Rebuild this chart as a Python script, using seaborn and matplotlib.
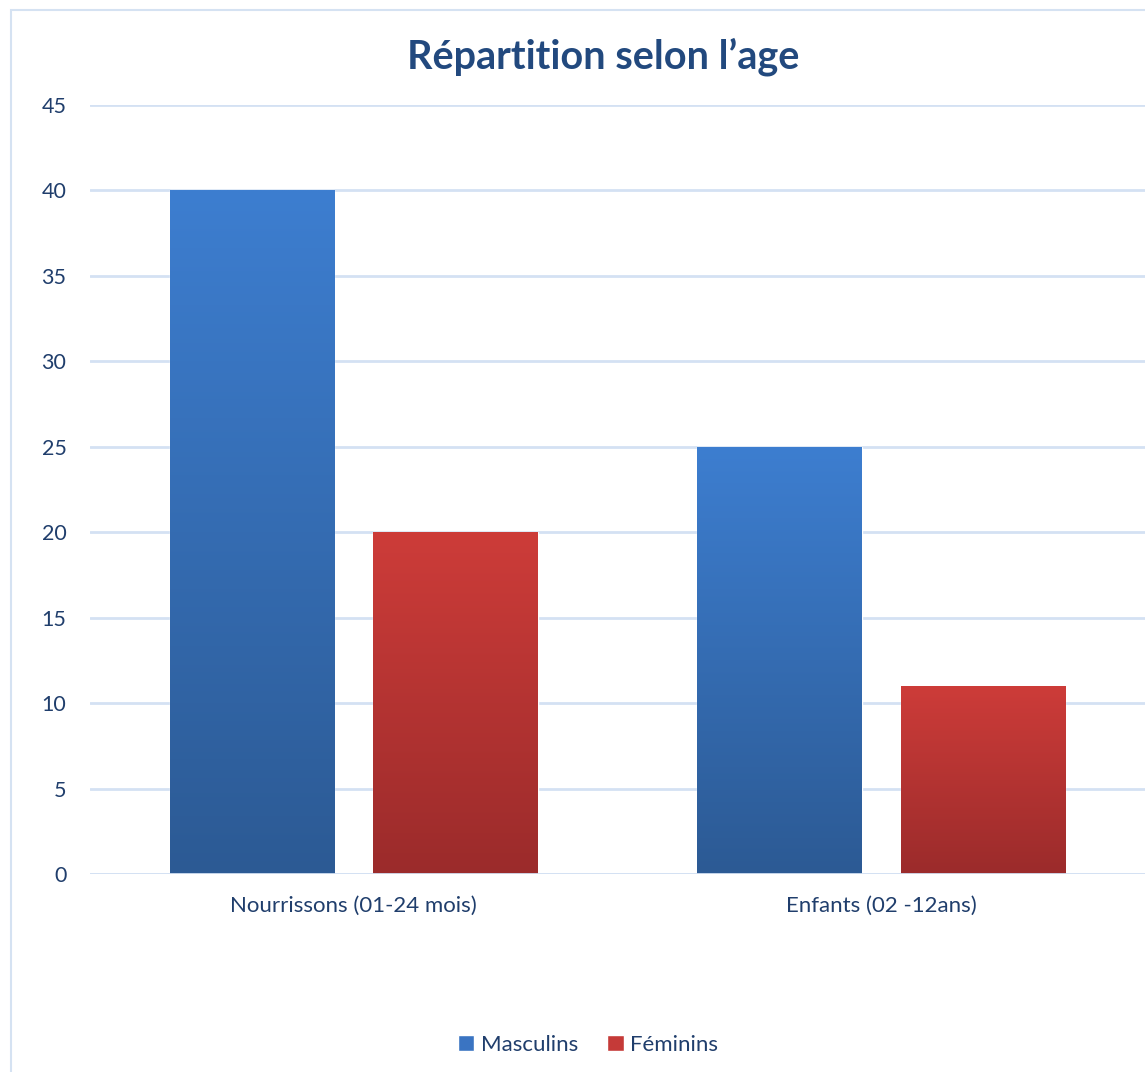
import numpy as np
import pandas as pd
import matplotlib
matplotlib.use("Agg")
import matplotlib.pyplot as plt
import seaborn as sns
from matplotlib.colors import LinearSegmentedColormap
from matplotlib.patches import Rectangle

# data
categories = ["Nourrissons (01-24 mois)", "Enfants (02 -12ans)"]
series = ["Masculins", "Féminins"]
masculins = [40, 25]
feminins = [20, 11]
y_ticks = [0, 5, 10, 15, 20, 25, 30, 35, 40, 45]

df = pd.DataFrame({
    "groupe": categories * 2,
    "sexe": [series[0]] * 2 + [series[1]] * 2,
    "valeur": masculins + feminins,
})

sns.set_theme(style="white")
plt.rcParams["font.family"] = ["Lato", "DejaVu Sans"]

txt = "#203E6C"
grid = "#D4E1F3"
base = {"Masculins": "#3A74C2", "Féminins": "#C53A38"}
grads = {
    "Masculins": LinearSegmentedColormap.from_list("b", ["#2C5A94", "#3D7ED0"]),
    "Féminins": LinearSegmentedColormap.from_list("r", ["#9B2B2B", "#CD3C39"]),
}

fig = plt.figure(figsize=(11.45, 10.72), dpi=100)
fig.patches.append(Rectangle((11 / 1145, -0.05), 1.2, 1 - 10 / 1072 + 0.05,
                             transform=fig.transFigure, fill=False,
                             edgecolor="#D5E2F2", linewidth=1.5))

ax = fig.add_axes([90 / 1145, 1 - 874 / 1072, 1 - 90 / 1145, (874 - 105) / 1072])
sns.barplot(data=df, x="groupe", y="valeur", hue="sexe", order=categories,
            hue_order=series, palette=base, width=0.77, gap=0.19,
            saturation=1, ax=ax, zorder=3)

# gradient fill per bar
grad = np.linspace(0, 1, 256).reshape(-1, 1)
for cont, name in zip(ax.containers, series):
    for p in cont:
        x, w, h = p.get_x(), p.get_width(), p.get_height()
        im = ax.imshow(grad, cmap=grads[name], origin="lower", aspect="auto",
                       extent=[x, x + w, 0, h], zorder=4)
        im.set_clip_path(p)

ax.set_xlim(-0.5, 1.5)
ax.set_ylim(0, 45)
ax.set_yticks(y_ticks)
ax.yaxis.grid(True, color=grid, linewidth=2, zorder=0)
ax.set_axisbelow(True)
for s in ax.spines.values():
    s.set_visible(False)
ax.axhline(0, color=grid, linewidth=2, zorder=5)
ax.set_xlabel("")
ax.set_ylabel("")
ax.tick_params(axis="y", length=0, pad=17, labelsize=15.5, labelcolor=txt)
ax.tick_params(axis="x", length=0, pad=16, labelsize=16, labelcolor=txt)

fig.text(603 / 1145, 1 - 57 / 1072, "Répartition selon l’age", ha="center",
         va="center", fontsize=28.5, fontweight="bold", color="#22497E")

leg = ax.legend(loc="center", bbox_to_anchor=(588 / 1145, 1 - 1045 / 1072),
                bbox_transform=fig.transFigure, ncol=2, frameon=False,
                fontsize=16, handlelength=0.75, handleheight=0.75,
                handletextpad=0.3, columnspacing=1.3)
for t in leg.get_texts():
    t.set_color(txt)

fig.savefig("out.png", dpi=100)
